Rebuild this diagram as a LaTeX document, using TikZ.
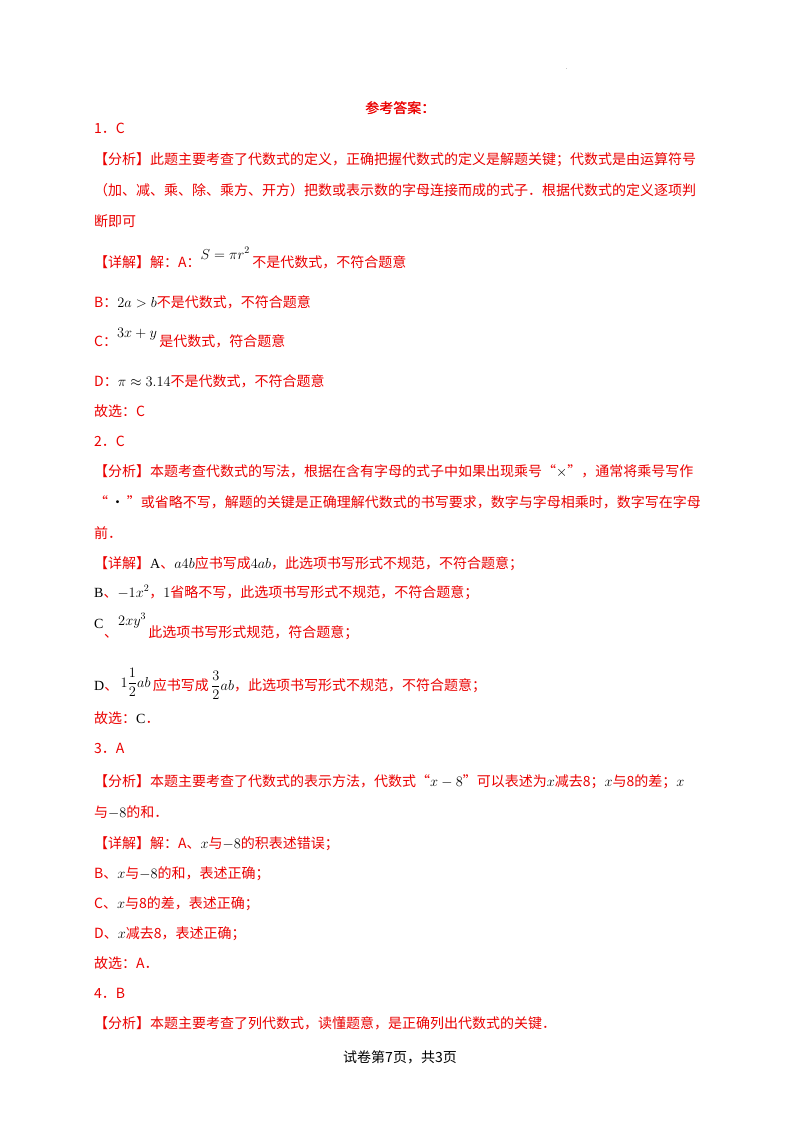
\documentclass[tikz,border=0pt]{standalone}
\usepackage{fontspec}
\setmainfont{Noto Sans CJK SC}
\newfontfamily\ser{Liberation Serif}
\definecolor{ans}{RGB}{235,0,0}
\begin{document}
\begin{tikzpicture}[x=1pt,y=-1pt,
  ln/.style={anchor=base west,inner sep=0pt,text=ans,font=\fontsize{14}{14}\selectfont},
  bk/.style={anchor=base west,inner sep=0pt,font=\fontsize{14}{14}\selectfont}]
\useasboundingbox[fill=white] (0,0) rectangle (800,1132);
\newcommand\M[1]{\textcolor{black}{$#1$}}
\node[ln,anchor=base] (t) at (400,113) {参考答案：};
\node[ln,anchor=base] (t2) at (400.6,113) {参考答案：};
\node[ln] (a1) at (94,133) {1．C};
\node[ln] (a2) at (94,164) {【分析】此题主要考查了代数式的定义，正确把握代数式的定义是解题关键；代数式是由运算符号};
\node[ln] (a3) at (94,195) {（加、减、乘、除、乘方、开方）把数或表示数的字母连接而成的式子．根据代数式的定义逐项判};
\node[ln] (a4) at (94,226) {断即可};
\node[ln] (a5) at (94,267) {【详解】解：A：\raisebox{8pt}{\M{S=\pi r^2}}\,不是代数式，不符合题意};
\node[ln] (a6) at (94,307) {B：\M{2a>b}不是代数式，不符合题意};
\node[ln] (a7) at (94,346) {C：\raisebox{9pt}{\M{3x+y}}\,是代数式，符合题意};
\node[ln] (a8) at (94,386) {D：\M{\pi\approx3.14}不是代数式，不符合题意};
\node[ln] (a9) at (94,416) {故选：C};
\node[ln] (b1) at (94,446) {2．C};
\node[ln] (b2) at (94,476) {【分析】本题考查代数式的写法，根据在含有字母的式子中如果出现乘号“\M{\times}”，通常将乘号写作};
\node[ln] (b3) at (94,507) {“\,\textcolor{black}{•}\,”或省略不写，解题的关键是正确理解代数式的书写要求，数字与字母相乘时，数字写在字母};
\node[ln] (b4) at (94,538) {前．};
\node[ln] (b5) at (94,568) {【详解】\textcolor{black}{\ser A}、\M{a4b}应书写成\M{4ab}，此选项书写形式不规范，不符合题意；};
\node[ln] (b6) at (94,597) {\textcolor{black}{\ser B}、\M{-1x^2}，\M{1}省略不写，此选项书写形式不规范，不符合题意；};
\node[ln] (b7) at (94,628) {\textcolor{black}{\ser C}};
\node[ln] (b7b) at (104,637) {、\raisebox{12pt}{\M{2xy^3}}\,此选项书写形式规范，符合题意；};
\node[ln] (b8) at (94,690) {\textcolor{black}{\ser D}、\,\raisebox{3pt}{\M{\displaystyle 1\frac{1}{2}ab}}\,应书写成\,\M{\displaystyle\frac{3}{2}ab}，此选项书写形式不规范，不符合题意；};
\node[ln] (b9) at (94,723) {故选：\textcolor{black}{\ser C}．};
\node[ln] (c1) at (94,753) {3．A};
\node[ln] (c2) at (94,786) {【分析】本题主要考查了代数式的表示方法，代数式“\M{x-8}”可以表述为\M{x}减去8；\M{x}与8的差；\M{x}};
\node[ln] (c3) at (94,817) {与\M{-8}的和．};
\node[ln] (c4) at (94,848) {【详解】解：A、\M{x}与\M{-8}的积表述错误；};
\node[ln] (c5) at (94,878) {B、\M{x}与\M{-8}的和，表述正确；};
\node[ln] (c6) at (94,908) {C、\M{x}与8的差，表述正确；};
\node[ln] (c7) at (94,938) {D、\M{x}减去8，表述正确；};
\node[ln] (c8) at (94,968) {故选：A．};
\node[ln] (d1) at (94,998) {4．B};
\node[ln] (d2) at (94,1028) {【分析】本题主要考查了列代数式，读懂题意，是正确列出代数式的关键．};
\node[bk,anchor=base] (f) at (400,1062) {试卷第7页，共3页};
\node[bk,font=\tiny] (dot) at (566,70) {.};
\end{tikzpicture}
\end{document}
